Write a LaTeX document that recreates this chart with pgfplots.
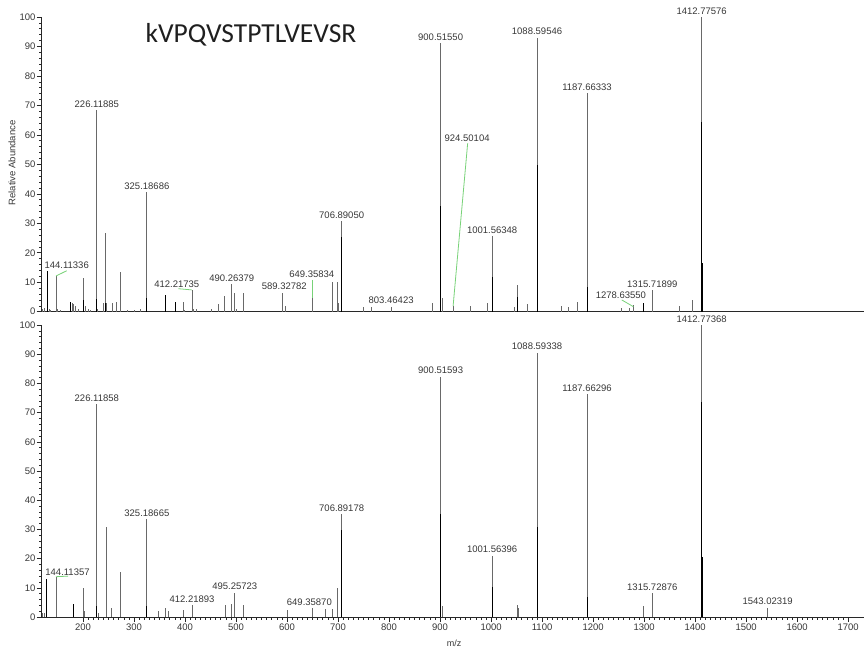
\documentclass[border=0pt]{standalone}
\usepackage{fontspec}
\setmainfont{Liberation Sans}
\newfontfamily\titlefont{Carlito}
\usepackage{pgfplots}
\pgfplotsset{compat=1.18}

\definecolor{stick}{RGB}{105,105,105}
\definecolor{lbl}{RGB}{55,55,55}
\definecolor{conn}{RGB}{120,210,120}
\definecolor{axc}{RGB}{40,40,40}

\pgfplotsset{specax/.style={
  scale only axis, width=822.3pt,
  xmin=119, xmax=1731, ymin=0, ymax=100,
  axis x line*=bottom, axis y line*=left,
  axis line style={-, axc, line width=0.7pt},
  ytick={0,10,...,100}, minor y tick num=4,
  tick align=outside, major tick length=5pt, minor tick length=2.5pt,
  every tick/.style={axc, line width=0.6pt},
  ticklabel style={font=\fontsize{9.5}{10}\selectfont, text=lbl},
  yticklabel style={inner sep=1pt},
  /pgf/number format/assume math mode=true,
  /pgf/number format/1000 sep={},
  clip=false,
}}
\newcommand\pk[3]{\node[anchor=south, yshift=2.5pt, inner sep=0pt, font=\fontsize{9.5}{10}\selectfont, text=lbl] at (axis cs:#1,#2) {#3};}
\newcommand\pkc[3]{\node[anchor=center, inner sep=0pt, font=\fontsize{9.5}{10}\selectfont, text=lbl] at (axis cs:#1,#2) {#3};}

\pgfplotstableread{
mz val
121 1.0
124 1.2
129.4 13.8
131 1.2
134 1.0
137 0.6
147 12.2
150 0.8
155 0.6
175 3.4
179 2.9
182 2.5
186 2.0
190 1.0
200 11.5
204 1.8
210 1.0
214 0.5
227 68.5
229 0.8
240 3.0
244.5 26.7
246 3.0
257 3.0
264.7 3.3
274 13.6
287 0.5
301 0.5
312 1.0
325.2 40.5
362 5.7
381 3.2
396 3.3
399 0.6
413.7 7.4
417 1.0
422 1.0
451.7 1.0
465 2.5
478 5.4
491.5 9.3
497.5 6.2
501 0.8
514 6.2
591 6.4
597 1.8
649.5 4.5
689.5 10.2
699 10.2
701 3.0
707 30.8
750 1.5
766 1.5
804 1.7
885 3.0
901 91.1
905 4.8
925.5 1.9
959 1.9
993.5 3.0
1002 25.7
1045 1.5
1052 9.1
1071 2.6
1090 93.0
1137 1.9
1152 1.6
1170 3.3
1188 74.1
1256 1.1
1271 1.4
1279 2.2
1298.6 3.0
1316 7.4
1369 1.9
1395.5 4.0
1412.8 100
}\toppeaks

\pgfplotstableread{
mz val
129.4 13.8
175 3.4
200 4.0
227 4.4
244.5 3.0
325.2 4.8
362 5.7
381 3.2
707 25.2
901 35.9
1002 11.9
1052 5.1
1090 49.8
1091 9.0
1188 8.5
1298.6 3.0
1412.8 64.5
1414 16.5
}\topblack

\pgfplotstableread{
mz val
121 1.5
124 1.5
129 12.9
147 13.8
182 4.5
200 10.0
203 2.0
227 73.0
230 1.5
245 30.9
255.5 3.0
274 15.4
325.2 33.6
347.7 2.0
362 3.0
368 2.0
396 2.4
413.7 4.0
479 4.0
491.5 4.6
497.5 8.3
514 4.0
600 2.4
649.5 3.0
674.5 2.6
689.5 2.6
699.4 9.8
707 35.2
901 82.3
905 3.9
1002 21.0
1052 4.1
1054 3.0
1090 90.5
1188 76.4
1298.6 3.8
1316 8.1
1412.8 100
1542 3.2
}\botpeaks

\pgfplotstableread{
mz val
129 12.9
182 4.5
227 3.9
325.2 3.9
707 29.8
901 35.3
1002 10.4
1090 30.9
1091 4.9
1188 6.8
1412.8 73.7
1414 20.7
}\botblack

\begin{document}
\begin{tikzpicture}
\useasboundingbox (0pt,0pt) rectangle (864pt,651pt);

% top panel
\begin{axis}[specax, at={(41.7pt,339.3pt)}, anchor=south west, height=294.7pt,
  xtick=\empty]
\addplot[ycomb, stick, line width=0.8pt, mark=none] table[x=mz,y=val] {\toppeaks};
\addplot[ycomb, black, line width=1.0pt, mark=none] table[x=mz,y=val] {\topblack};
\draw[conn, line width=0.8pt] (axis cs:147,12.1) -- (axis cs:168,13.9);
\draw[conn, line width=0.8pt] (axis cs:387,7.8) -- (axis cs:413,7.4);
\draw[conn, line width=0.8pt] (axis cs:649.5,10.8) -- (axis cs:649.5,4.7);
\draw[conn, line width=0.8pt] (axis cs:954,57.1) -- (axis cs:925.5,1.9);
\draw[conn, line width=0.8pt] (axis cs:1256,4.0) -- (axis cs:1279,1.7);
\pkc{168}{15.7}{144.11336}
\pk{227}{68.5}{226.11885}
\pk{325.2}{40.5}{325.18686}
\pkc{383.7}{9.3}{412.21735}
\pk{491.5}{9.3}{490.26379}
\pkc{594.5}{8.5}{589.32782}
\pkc{648.4}{12.7}{649.35834}
\pk{707}{30.8}{706.89050}
\pk{804}{1.7}{803.46423}
\pk{901}{91.1}{900.51550}
\pkc{953}{59.0}{924.50104}
\pk{1002}{25.7}{1001.56348}
\pk{1090}{93.0}{1088.59546}
\pk{1188}{74.1}{1187.66333}
\pkc{1254.5}{5.7}{1278.63550}
\pk{1316}{7.4}{1315.71899}
\pk{1412.8}{100}{1412.77576}
\end{axis}

% bottom panel
\begin{axis}[specax, at={(41.7pt,34pt)}, anchor=south west, height=292pt,
  xtick={200,300,...,1700}, minor x tick num=9,
  xticklabel style={inner sep=1pt, yshift=-1pt}]
\addplot[ycomb, stick, line width=0.8pt, mark=none] table[x=mz,y=val] {\botpeaks};
\addplot[ycomb, black, line width=1.0pt, mark=none] table[x=mz,y=val] {\botblack};
\draw[conn, line width=0.8pt] (axis cs:147,13.8) -- (axis cs:171,14.0);
\pkc{169.6}{15.5}{144.11357}
\pk{227}{73.0}{226.11858}
\pk{325.2}{33.6}{325.18665}
\pk{413.7}{4.0}{412.21893}
\pk{497.5}{8.3}{495.25723}
\pkc{643.7}{5.2}{649.35870}
\pk{707}{35.2}{706.89178}
\pk{901}{82.3}{900.51593}
\pk{1002}{21.0}{1001.56396}
\pk{1090}{90.5}{1088.59338}
\pk{1188}{76.4}{1187.66296}
\pk{1316}{8.1}{1315.72876}
\pk{1412.8}{100}{1412.77368}
\pk{1542}{3.2}{1543.02319}
\end{axis}

\node[rotate=90, font=\fontsize{9.5}{10}\selectfont, text=lbl] at (12pt,488pt) {Relative Abundance};
\node[font=\titlefont\fontsize{27.5}{32}\selectfont, text=black!88] at (251pt,616pt) {kVPQVSTPTLVEVSR};
\node[font=\fontsize{9}{10}\selectfont, text=lbl] at (454pt,8pt) {m/z};
\end{tikzpicture}
\end{document}
